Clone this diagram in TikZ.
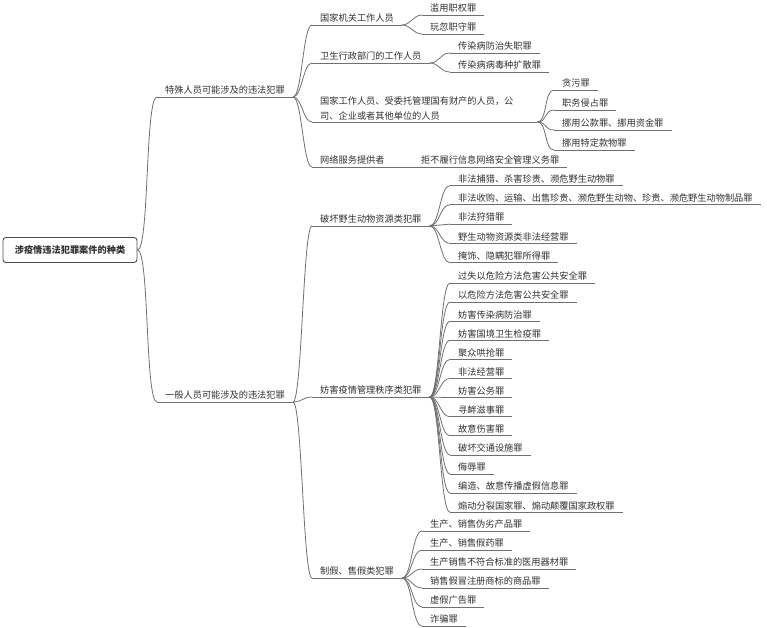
\documentclass[tikz,border=0pt]{standalone}
\usepackage{fontspec}
\setmainfont{Noto Sans CJK SC}
\definecolor{linegray}{HTML}{707070}
\definecolor{textdark}{HTML}{303030}

\begin{document}
\begin{tikzpicture}[
    x=1pt, y=-1pt,
    font=\fontsize{9.2}{15}\selectfont,
    text=textdark,
    link/.style={draw=linegray, line width=0.8pt},
    root/.style={rectangle, rounded corners=3pt, draw=linegray!70!black, line width=0.9pt,
                 minimum width=134pt, minimum height=25pt, font=\fontsize{9.2}{15}\selectfont\bfseries},
    topic/.style={anchor=south west, inner xsep=8pt, inner ysep=2pt,
                  append after command={(\tikzlastnode.south west) edge[link] (\tikzlastnode.south east)}},
    one/.style={topic, text depth=1pt}
]
    \useasboundingbox (0,0) rectangle (767,628);

    % root and the two main branches
    \node[root] (root) at (70,250) {涉疫情违法犯罪案件的种类};
    \node[one] (sp) at (157,97) {特殊人员可能涉及的违法犯罪};
    \node[one] (gen) at (157,402) {一般人员可能涉及的违法犯罪};

    % special persons
    \node[one] (s1) at (312,25) {国家机关工作人员};
    \node[one] (s2) at (312,63) {卫生行政部门的工作人员};
    \node[topic, align=left, text width=209pt] (s3) at (312,122)
        {国家工作人员、受委托管理国有财产的人员，公\\司、企业或者其他单位的人员};
    \node[one] (s4) at (312,167) {网络服务提供者};

    \node[one] (a1) at (422,15) {滥用职权罪};
    \node[one] (a2) at (422,34) {玩忽职守罪};
    \node[one] (b1) at (450,53) {传染病防治失职罪};
    \node[one] (b2) at (450,72) {传染病病毒种扩散罪};
    \foreach \t [count=\i] in {贪污罪, 职务侵占罪, 挪用公款罪、挪用资金罪, 挪用特定款物罪}
        \node[one] (c\i) at (554,{90+20*(\i-1)}) {\t};
    \node[one] (d1) at (413,167) {拒不履行信息网络安全管理义务罪};

    % general persons
    \node[one] (g1) at (312,226) {破坏野生动物资源类犯罪};
    \node[one] (g2) at (312,397) {妨害疫情管理秩序类犯罪};
    \node[one] (g3) at (312,578) {制假、售假类犯罪};

    \foreach \t [count=\i] in {非法捕猎、杀害珍贵、濒危野生动物罪,
            非法收购、运输、出售珍贵、濒危野生动物、珍贵、濒危野生动物制品罪,
            非法狩猎罪, 野生动物资源类非法经营罪, 掩饰、隐瞒犯罪所得罪}
        \node[one] (w\i) at (450,{185.5+19.3*(\i-1)}) {\t};

    \foreach \t [count=\i] in {过失以危险方法危害公共安全罪, 以危险方法危害公共安全罪,
            妨害传染病防治罪, 妨害国境卫生检疫罪, 聚众哄抢罪, 非法经营罪, 妨害公务罪,
            寻衅滋事罪, 故意伤害罪, 破坏交通设施罪, 侮辱罪, 编造、故意传播虚假信息罪,
            煽动分裂国家罪、煽动颠覆国家政权罪}
        \node[one] (f\i) at (450,{283+19.1*(\i-1)}) {\t};

    \foreach \t [count=\i] in {生产、销售伪劣产品罪, 生产、销售假药罪,
            生产销售不符合标准的医用器材罪, 销售假冒注册商标的商品罪, 虚假广告罪, 诈骗罪}
        \node[one] (m\i) at (422,{531+19*(\i-1)}) {\t};

    % connectors
    \foreach \c in {sp,gen}
        \draw[link] (root.east) .. controls +(12,0) and +(-12,0) .. (\c.south west);
    \foreach \c in {s1,s2,s3,s4}
        \draw[link] (sp.south east) .. controls +(9,0) and +(-9,0) .. (\c.south west);
    \foreach \c in {g1,g2,g3}
        \draw[link] (gen.south east) .. controls +(9,0) and +(-9,0) .. (\c.south west);
    \foreach \c in {a1,a2}
        \draw[link] (s1.south east) .. controls +(9,0) and +(-9,0) .. (\c.south west);
    \foreach \c in {b1,b2}
        \draw[link] (s2.south east) .. controls +(10,0) and +(-10,0) .. (\c.south west);
    \foreach \i in {1,...,4}
        \draw[link] (s3.south east) .. controls +(10,0) and +(-10,0) .. (c\i.south west);
    \draw[link] (s4.south east) -- (d1.south west);
    \foreach \i in {1,...,5}
        \draw[link] (g1.south east) .. controls +(10,0) and +(-10,0) .. (w\i.south west);
    \foreach \i in {1,...,13}
        \draw[link] (g2.south east) .. controls +(10,0) and +(-10,0) .. (f\i.south west);
    \foreach \i in {1,...,6}
        \draw[link] (g3.south east) .. controls +(10,0) and +(-10,0) .. (m\i.south west);
\end{tikzpicture}
\end{document}
